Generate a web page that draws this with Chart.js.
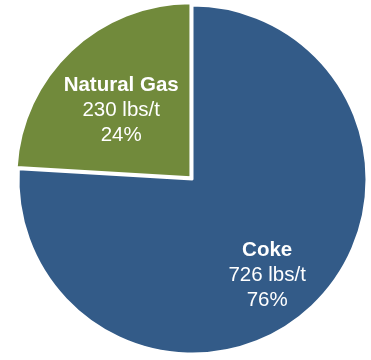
<!DOCTYPE html>
<html>
<head>
<meta charset="utf-8">
<script src="https://cdn.jsdelivr.net/npm/chart.js@4.4.0/dist/chart.umd.min.js"></script>
<style>
  html, body { margin: 0; padding: 0; background: #fff; }
  #wrap { width: 371px; height: 360px; }
</style>
</head>
<body>
<div id="wrap"><canvas id="pieChart" width="371" height="360"></canvas></div>
<script>
const categories = ['Coke', 'Natural Gas'];
const emissions = [726, 230];          // lbs/t
const percentLabels = ['76%', '24%'];
const sliceColors = ['#335b88', '#718a3b'];

// label placement inside each slice: fraction of radius, angle tweak (deg)
const labelPlace = [
  { frac: 0.70, turn: 5.5 },
  { frac: 0.555, turn: -2.5 }
];

const sliceLabels = {
  id: 'sliceLabels',
  afterDatasetsDraw(chart) {
    const ctx = chart.ctx;
    const meta = chart.getDatasetMeta(0);
    meta.data.forEach((arc, i) => {
      const mid = (arc.startAngle + arc.endAngle) / 2;
      const off = (arc.options.offset || 0) / 4;
      const ang = mid + labelPlace[i].turn * Math.PI / 180;
      const r = arc.outerRadius * labelPlace[i].frac;
      const x = arc.x + Math.cos(mid) * off + Math.cos(ang) * r;
      const y = arc.y + Math.sin(mid) * off + Math.sin(ang) * r;
      const lines = [
        { text: categories[i], font: 'bold 20.5px "Liberation Sans", Arial, sans-serif' },
        { text: emissions[i] + ' lbs/t', font: '20.5px "Liberation Sans", Arial, sans-serif' },
        { text: percentLabels[i], font: '20.5px "Liberation Sans", Arial, sans-serif' }
      ];
      ctx.save();
      ctx.fillStyle = '#ffffff';
      ctx.textAlign = 'center';
      ctx.textBaseline = 'middle';
      lines.forEach((ln, k) => {
        ctx.font = ln.font;
        ctx.fillText(ln.text, x, y + (k - 1) * 25);
      });
      ctx.restore();
    });
  }
};

new Chart(document.getElementById('pieChart').getContext('2d'), {
  type: 'pie',
  data: {
    labels: categories,
    datasets: [{
      data: emissions,
      backgroundColor: sliceColors,
      borderColor: '#ffffff',
      borderWidth: 2,
      offset: [0, 12]
    }]
  },
  options: {
    responsive: false,
    animation: false,
    radius: 174,
    layout: { padding: { left: 14, right: 0, top: 0, bottom: 1 } },
    plugins: {
      legend: { display: false },
      tooltip: { enabled: false }
    }
  },
  plugins: [sliceLabels]
});
</script>
</body>
</html>
